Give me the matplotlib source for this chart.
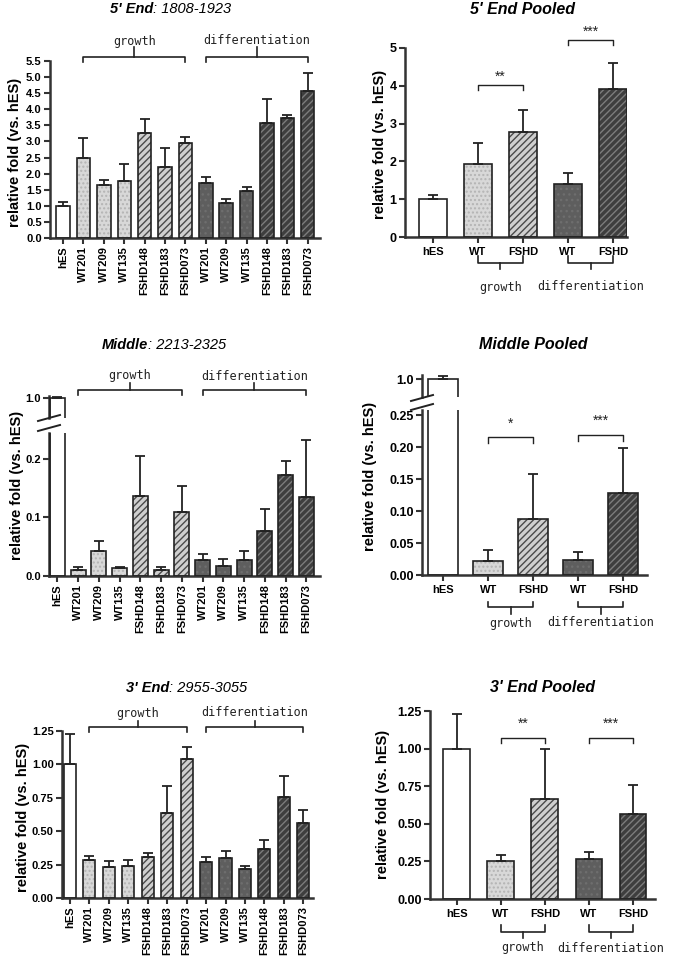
import matplotlib
matplotlib.use('Agg')
import matplotlib.pyplot as plt
import numpy as np
from matplotlib.transforms import blended_transform_factory
from matplotlib.lines import Line2D
from matplotlib.ticker import FormatStrFormatter

W, H = 677, 965
plt.rcParams['font.family'] = ['Liberation Sans', 'DejaVu Sans']
plt.rcParams['hatch.linewidth'] = 1.0

# data
samples = ['hES', 'WT201', 'WT209', 'WT135', 'FSHD148', 'FSHD183', 'FSHD073',
           'WT201', 'WT209', 'WT135', 'FSHD148', 'FSHD183', 'FSHD073']
pooled = ['hES', 'WT', 'FSHD', 'WT', 'FSHD']

end5_mean = [1.00, 2.48, 1.65, 1.76, 3.26, 2.20, 2.95, 1.72, 1.10, 1.47, 3.57, 3.72, 4.57]
end5_err = [0.12, 0.64, 0.16, 0.54, 0.43, 0.61, 0.18, 0.17, 0.11, 0.11, 0.76, 0.11, 0.55]
end5_pool_mean = [1.00, 1.94, 2.77, 1.40, 3.91]
end5_pool_err = [0.12, 0.56, 0.60, 0.29, 0.69]

mid_mean = [1.00, 0.011, 0.043, 0.013, 0.137, 0.011, 0.110, 0.027, 0.017, 0.027, 0.077, 0.173, 0.135]
mid_err = [0.007, 0.004, 0.017, 0.003, 0.068, 0.004, 0.043, 0.011, 0.012, 0.015, 0.037, 0.024, 0.097]
mid_pool_mean = [1.00, 0.022, 0.087, 0.0235, 0.129]
mid_pool_err = [0.02, 0.017, 0.071, 0.012, 0.069]

end3_mean = [1.00, 0.286, 0.231, 0.236, 0.306, 0.634, 1.04, 0.273, 0.298, 0.216, 0.368, 0.758, 0.559]
end3_err = [0.23, 0.03, 0.047, 0.05, 0.03, 0.203, 0.09, 0.033, 0.057, 0.025, 0.067, 0.154, 0.102]
end3_pool_mean = [1.00, 0.255, 0.663, 0.264, 0.565]
end3_pool_err = [0.23, 0.038, 0.337, 0.051, 0.193]

kinds13 = ['hes'] + ['gwt'] * 3 + ['gfs'] * 3 + ['dwt'] * 3 + ['dfs'] * 3
kinds5 = ['hes', 'gwt', 'gfs', 'dwt', 'dfs']

STY = {'hes': ('white', None, None),
       'gwt': ('#d8d8d8', '....', '#b4b4b4'),
       'gfs': ('#cfcfcf', '/////', '#4a4a4a'),
       'dwt': ('#5e5e5e', '...', '#6e6e6e'),
       'dfs': ('#3e3e3e', '/////', '#7c7c7c')}
EDGE = '#222222'

fig = plt.figure(figsize=(W / 100, H / 100), dpi=100)


def px_box(l, t, r, b):
    return [l / W, 1 - b / H, (r - l) / W, (b - t) / H]


def fy(p):
    return 1 - p / H


def style(ax, bottom=True):
    for s in ['top', 'right']:
        ax.spines[s].set_visible(False)
    ax.spines['bottom'].set_visible(bottom)
    for s in ['left', 'bottom']:
        ax.spines[s].set_linewidth(1.8)
        ax.spines[s].set_color('#333333')
    ax.tick_params(width=1.5, length=4, color='#333333', labelsize=8)
    ax.tick_params(axis='y', pad=2)
    for lab in ax.get_yticklabels():
        lab.set_fontweight('bold')
    if not bottom:
        ax.tick_params(axis='x', bottom=False, labelbottom=False)


def draw_bars(ax, x, vals, errs, kinds, width, err=True):
    for xi, v, k in zip(x, vals, kinds):
        fc, hatch, hc = STY[k]
        ax.bar(xi, v, width, color=fc, edgecolor=hc if hatch else fc,
               hatch=hatch, linewidth=0, zorder=2)
        ax.bar(xi, v, width, fill=False, edgecolor=EDGE, linewidth=1.2, zorder=3)
    if err:
        cont = ax.errorbar(x, vals, yerr=[np.zeros(len(vals)), errs], fmt='none',
                           ecolor=EDGE, elinewidth=1.3, capsize=3.5, capthick=1.3, zorder=4)
        for a in list(cont.lines[1]) + list(cont.lines[2]):
            a.set_clip_on(False)


def bracket(ax, x0, x1, y_end, y_line, y_mid, y_text, label):
    tr = blended_transform_factory(ax.transData, fig.transFigure)
    ax.plot([x0, x0, x1, x1], [fy(y_end), fy(y_line), fy(y_line), fy(y_end)],
            transform=tr, color=EDGE, lw=1.2, clip_on=False)
    xm = (x0 + x1) / 2
    ax.plot([xm, xm], [fy(y_line), fy(y_mid)], transform=tr, color=EDGE, lw=1.2, clip_on=False)
    ax.text(xm, fy(y_text), label, transform=tr, ha='center', va='center',
            family='DejaVu Sans Mono', fontsize=8.5, color='#222222')


def sig(ax, x0, x1, y_end, y_line, y_text, stars):
    tr = blended_transform_factory(ax.transData, fig.transFigure)
    ax.plot([x0, x0, x1, x1], [fy(y_end), fy(y_line), fy(y_line), fy(y_end)],
            transform=tr, color=EDGE, lw=1.0, clip_on=False)
    ax.text((x0 + x1) / 2, fy(y_text), stars, transform=tr, ha='center', va='center',
            fontsize=10, color='#222222')


def title2(xs, y, bold, rest):
    fig.text(xs / W, fy(y), bold, ha='right', va='center', fontsize=10.5,
             fontweight='bold', style='italic')
    fig.text(xs / W, fy(y), rest, ha='left', va='center', fontsize=10.5, style='italic')


def ylab(x, y):
    fig.text(x / W, fy(y), 'relative fold (vs. hES)', rotation=90, ha='center', va='center',
             fontsize=10.5, fontweight='bold')


def xlabels13(ax):
    ax.set_xticks(np.arange(13))
    ax.set_xticklabels(samples, rotation=90, fontsize=9.5, fontweight='bold')
    ax.tick_params(axis='x', pad=2)


def xlabels5(ax):
    ax.set_xticks(np.arange(5))
    ax.set_xticklabels(pooled, fontsize=10.5, fontweight='bold')
    ax.tick_params(axis='x', pad=3)


x13 = np.arange(13)
x5 = np.arange(5)

# ---- 5' End
ax = fig.add_axes(px_box(50, 61, 320, 238))
draw_bars(ax, x13, end5_mean, end5_err, kinds13, 0.66)
ax.set_xlim(-0.64, 12.6)
ax.set_ylim(0, 5.5)
ax.set_yticks(np.arange(0, 5.51, 0.5))
ax.yaxis.set_major_formatter(FormatStrFormatter('%.1f'))
xlabels13(ax)
style(ax)
bracket(ax, 1, 6, 62, 57, 47, 41, 'growth')
bracket(ax, 7, 12, 62, 57, 47, 41, 'differentiation')
title2(153, 9, "5' End", ': 1808-1923')
ylab(15, 152)

# ---- 5' End Pooled
ax = fig.add_axes(px_box(405, 48, 627, 237))
draw_bars(ax, x5, end5_pool_mean, end5_pool_err, kinds5, 0.62)
ax.set_xlim(-0.62, 4.31)
ax.set_ylim(0, 5)
ax.set_yticks(np.arange(0, 6))
xlabels5(ax)
style(ax)
ax.tick_params(axis='y', labelsize=9)
bracket(ax, 1, 2, 256, 263, 269, 287, 'growth')
bracket(ax, 3, 4, 256, 263, 269, 287, 'differentiation')
sig(ax, 1, 2, 90, 85, 77, '**')
sig(ax, 3, 4, 45, 40, 32, '***')
fig.text(523 / W, fy(9), "5' End Pooled", ha='center', va='center', fontsize=11.5,
         fontweight='bold', style='italic')
ylab(380, 144)

# ---- Middle (broken axis)
axu = fig.add_axes(px_box(49, 396, 320, 418))
axl = fig.add_axes(px_box(49, 433, 320, 576))
draw_bars(axu, x13[:1], mid_mean[:1], mid_err[:1], kinds13[:1], 0.72)
draw_bars(axl, x13, mid_mean, mid_err, kinds13, 0.72)
for a in (axu, axl):
    a.set_xlim(-0.4, 12.66)
axu.set_ylim(0.9, 1.01)
axu.set_yticks([1.0])
axu.yaxis.set_major_formatter(FormatStrFormatter('%.1f'))
axl.set_ylim(0, 0.2444)
axl.set_yticks([0, 0.1, 0.2])
axl.yaxis.set_major_formatter(FormatStrFormatter('%.1f'))
xlabels13(axl)
style(axu, bottom=False)
style(axl)
bracket(axl, 1, 6, 395, 390, 383, 376, 'growth')
bracket(axl, 7, 12, 395, 390, 383, 376, 'differentiation')
for yc in (418, 428):
    fig.add_artist(Line2D([38 / W, 60 / W], [fy(yc + 3), fy(yc - 3)], color=EDGE, lw=1.4))
title2(148, 345, 'Middle', ': 2213-2325')
ylab(17, 485)

# ---- Middle Pooled (broken axis)
axu = fig.add_axes(px_box(422, 375, 647, 397))
axl = fig.add_axes(px_box(422, 410, 647, 575))
draw_bars(axu, x5[:1], mid_pool_mean[:1], mid_pool_err[:1], kinds5[:1], 0.66)
draw_bars(axl, x5, mid_pool_mean, mid_pool_err, kinds5, 0.66)
for a in (axu, axl):
    a.set_xlim(-0.47, 4.53)
axu.set_ylim(0.9, 1.025)
axu.set_yticks([1.0])
axu.yaxis.set_major_formatter(FormatStrFormatter('%.1f'))
axl.set_ylim(0, 0.258)
axl.set_yticks(np.arange(0, 0.26, 0.05))
axl.yaxis.set_major_formatter(FormatStrFormatter('%.2f'))
xlabels5(axl)
style(axu, bottom=False)
style(axl)
axu.tick_params(axis='y', labelsize=9)
axl.tick_params(axis='y', labelsize=9)
bracket(axl, 1, 2, 602, 607, 614, 623, 'growth')
bracket(axl, 3, 4, 602, 607, 614, 623, 'differentiation')
sig(axl, 1, 2, 443, 437, 424, '*')
sig(axl, 3, 4, 441, 435, 421, '***')
for yc in (398, 407):
    fig.add_artist(Line2D([411 / W, 433 / W], [fy(yc + 3), fy(yc - 3)], color=EDGE, lw=1.4))
fig.text(533 / W, fy(345), 'Middle Pooled', ha='center', va='center', fontsize=11.5,
         fontweight='bold', style='italic')
ylab(370, 476)

# ---- 3' End
ax = fig.add_axes(px_box(62, 731, 313, 898))
draw_bars(ax, x13, end3_mean, end3_err, kinds13, 0.62)
ax.set_xlim(-0.41, 12.5)
ax.set_ylim(0, 1.25)
ax.set_yticks(np.arange(0, 1.26, 0.25))
ax.yaxis.set_major_formatter(FormatStrFormatter('%.2f'))
xlabels13(ax)
style(ax)
bracket(ax, 1, 6, 732, 727, 721, 713, 'growth')
bracket(ax, 7, 12, 732, 727, 721, 713, 'differentiation')
title2(169, 688, "3' End", ': 2955-3055')
ylab(23, 817)

# ---- 3' End Pooled
ax = fig.add_axes(px_box(430, 711, 655, 899))
draw_bars(ax, x5, end3_pool_mean, end3_pool_err, kinds5, 0.61)
ax.set_xlim(-0.61, 4.5)
ax.set_ylim(0, 1.25)
ax.set_yticks(np.arange(0, 1.26, 0.25))
ax.yaxis.set_major_formatter(FormatStrFormatter('%.2f'))
xlabels5(ax)
style(ax)
ax.tick_params(axis='y', labelsize=9)
bracket(ax, 1, 2, 925, 932, 938, 948, 'growth')
bracket(ax, 3, 4, 925, 932, 938, 948, 'differentiation')
sig(ax, 1, 2, 743, 738, 724, '**')
sig(ax, 3, 4, 743, 738, 724, '***')
fig.text(542 / W, fy(687), "3' End Pooled", ha='center', va='center', fontsize=11.5,
         fontweight='bold', style='italic')
ylab(383, 804)

fig.savefig('out.png', dpi=100, facecolor='white')
